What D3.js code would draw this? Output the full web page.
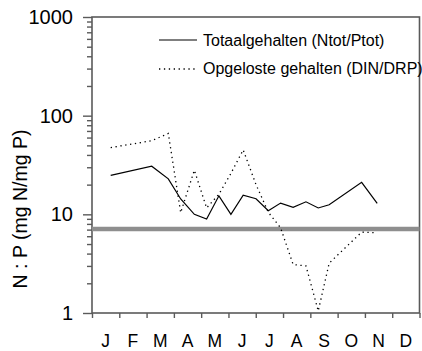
<!DOCTYPE html>
<html>
<head>
<meta charset="utf-8">
<script src="https://cdn.jsdelivr.net/npm/d3@7"></script>
<style>
  html, body { margin: 0; padding: 0; background: #fff; }
  svg { display: block; font-family: "Liberation Sans", Arial, sans-serif; }
</style>
</head>
<body>
<svg id="chart" width="422" height="351"></svg>
<script>
// ---- data ----
const months = ["J", "F", "M", "A", "M", "J", "J", "A", "S", "O", "N", "D"];
// sampling dates as fractional month position (0 = 1 Jan, 12 = 31 Dec)
const sampleMonths = [0.685, 2.188, 2.796, 3.25, 3.75, 4.2, 4.65, 5.09, 5.54, 6.01, 6.46, 6.91, 7.37, 7.84, 8.29, 8.69, 9.88, 10.45];
const totaal   = [24.8, 30.7, 22.9, 14.3, 10.0, 8.96, 15.4, 10.0, 15.6, 14.4, 10.9, 13.0, 11.8, 13.4, 11.6, 12.5, 21.1, 12.9];
const opgelost = [47.5, 55.7, 66, 10.4, 28, 11.6, 16, 26, 45, 20, 10.5, 7.3, 3.1, 3.0, 1.05, 3.2, 6.6, 6.5];
const redfield = 7.1;
const yMajorTicks = [1, 10, 100, 1000];
const legendLabels = ["Totaalgehalten (Ntot/Ptot)", "Opgeloste gehalten (DIN/DRP)"];
const yLabel = "N : P (mg N/mg P)";

// ---- layout ----
const L = 92, R = 419.5, T = 17, B = 313;
const svg = d3.select("#chart");
const x = d3.scaleLinear().domain([0, 12]).range([L, R]);
const y = d3.scaleLog().domain([1, 1000]).range([B, T]);
const axisColor = "#5a5a5a";

// minor ticks
const minor = [];
[1, 10, 100].forEach(d => { for (let k = 2; k <= 9; k++) minor.push(d * k); });

const gMinor = svg.append("g").attr("transform", `translate(${L},0)`)
  .call(d3.axisLeft(y).tickValues(minor).tickSize(5).tickFormat(""));
const gMajor = svg.append("g").attr("transform", `translate(${L},0)`)
  .call(d3.axisLeft(y).tickValues(yMajorTicks).tickSize(9).tickPadding(10).tickFormat(d3.format("d")));
const gX = svg.append("g").attr("transform", `translate(0,${B})`)
  .call(d3.axisBottom(x).tickValues(d3.range(0, 13)).tickSize(5).tickFormat(""));

[gMinor, gMajor, gX].forEach(g => {
  g.select(".domain").remove();
  g.selectAll(".tick line").attr("stroke", axisColor).attr("stroke-width", 1.4);
});
gMajor.selectAll(".tick text")
  .attr("fill", "#000").attr("font-size", 20)
  .attr("font-family", "Liberation Sans, Arial, sans-serif");

// frame
svg.append("rect")
  .attr("x", L).attr("y", T).attr("width", R - L).attr("height", B - T)
  .attr("fill", "none").attr("stroke", axisColor).attr("stroke-width", 1.6);

// month labels
svg.append("g").selectAll("text").data(months).join("text")
  .attr("x", (d, i) => x(i + 0.5))
  .attr("y", 347)
  .attr("text-anchor", "middle")
  .attr("font-size", 17.5)
  .attr("fill", "#000")
  .text(d => d);

// y label
svg.append("text")
  .attr("transform", "translate(27,209) rotate(-90)")
  .attr("text-anchor", "middle")
  .attr("font-size", 19.5)
  .attr("fill", "#000")
  .text(yLabel);

// redfield reference line
svg.append("line")
  .attr("x1", L).attr("x2", R)
  .attr("y1", y(redfield)).attr("y2", y(redfield))
  .attr("stroke", "#8e8e8e").attr("stroke-width", 4.5);

// series
const line = d3.line().x(d => x(d[0])).y(d => y(d[1]));
svg.append("path")
  .datum(sampleMonths.map((m, i) => [m, totaal[i]]))
  .attr("d", line).attr("fill", "none")
  .attr("stroke", "#000").attr("stroke-width", 1.2);
svg.append("path")
  .datum(sampleMonths.map((m, i) => [m, opgelost[i]]))
  .attr("d", line).attr("fill", "none")
  .attr("stroke", "#000").attr("stroke-width", 1.3)
  .attr("stroke-dasharray", "1.3,3.6");

// legend
const lg = svg.append("g");
lg.append("line").attr("x1", 159).attr("x2", 197).attr("y1", 40).attr("y2", 40)
  .attr("stroke", "#000").attr("stroke-width", 1.2);
lg.append("line").attr("x1", 159).attr("x2", 197).attr("y1", 69).attr("y2", 69)
  .attr("stroke", "#000").attr("stroke-width", 1.3).attr("stroke-dasharray", "1.3,3.6");
lg.selectAll("text").data(legendLabels).join("text")
  .attr("x", 203).attr("y", (d, i) => i === 0 ? 45.5 : 73.5)
  .attr("font-size", 16).attr("fill", "#000")
  .text(d => d);
</script>
</body>
</html>
